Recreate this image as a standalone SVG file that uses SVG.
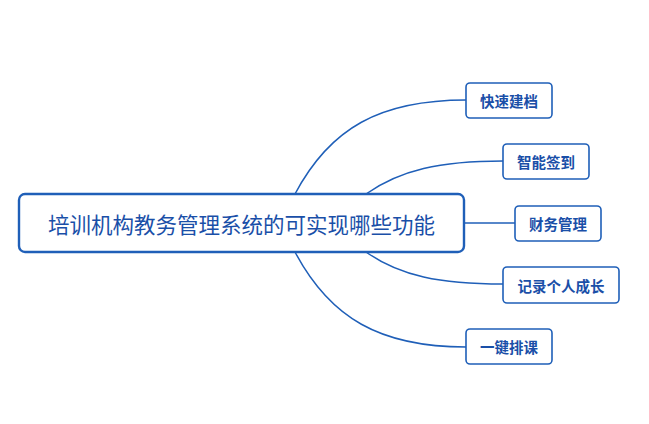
<svg xmlns="http://www.w3.org/2000/svg" width="649" height="424" viewBox="0 0 649 424">
<style>
.node rect{fill:#ffffff;stroke:#1f5fb8;stroke-width:1.6}
.node text{font-family:"Noto Sans CJK SC","Noto Sans",sans-serif;font-size:14.5px;font-weight:bold;fill:#1a4fa8;text-anchor:middle;dominant-baseline:central}
#root rect{stroke-width:2.4;stroke:#1f5fb8}
#root text{font-size:21.5px;font-weight:normal;fill:#1a4fa8}
.edges path{fill:none;stroke:#1f5fb8;stroke-width:1.5}
</style>
<rect width="649" height="424" fill="#ffffff"/>
<g class="edges" id="connectors">
<path d="M295,194 C330,128 380,100 466,100"/>
<path d="M366,194 C400,170 440,161 503,161"/>
<path d="M464,223 L515,223"/>
<path d="M366,252 C400,276 440,284 503,284"/>
<path d="M295,252 C330,318 380,347 466,347"/>
</g>
<g class="node" id="root">
<rect x="19" y="194" width="445" height="58" rx="6"/>
<text x="241.5" y="223">培训机构教务管理系统的可实现哪些功能</text>
</g>
<g class="node" id="n1">
<rect x="466" y="83" width="86" height="35" rx="4"/>
<text x="509" y="100.5">快速建档</text>
</g>
<g class="node" id="n2">
<rect x="503" y="144" width="86" height="35" rx="4"/>
<text x="546" y="161.5">智能签到</text>
</g>
<g class="node" id="n3">
<rect x="515" y="206" width="86" height="35" rx="4"/>
<text x="558" y="223.5">财务管理</text>
</g>
<g class="node" id="n4">
<rect x="503" y="267" width="116" height="36" rx="4"/>
<text x="561" y="285">记录个人成长</text>
</g>
<g class="node" id="n5">
<rect x="466" y="329" width="86" height="35" rx="4"/>
<text x="509" y="346.5">一键排课</text>
</g>
</svg>
